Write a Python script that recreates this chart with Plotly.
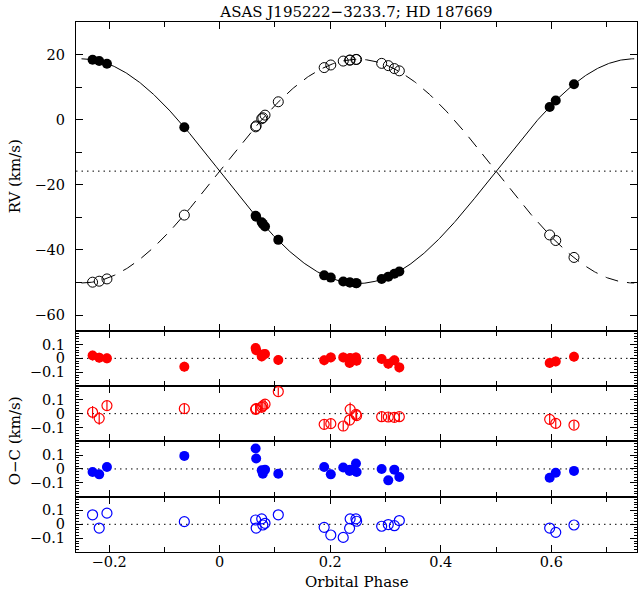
import numpy as np
import plotly.graph_objects as go

# ---------------- data ----------------
phase = [-0.230, -0.218, -0.204, -0.064, 0.065, 0.066, 0.076, 0.078, 0.082, 0.106,
         0.189, 0.201, 0.2235, 0.235, 0.236, 0.2465, 0.2477,
         0.293, 0.305, 0.316, 0.325, 0.597, 0.608, 0.641]

rv_primary = [18.4, 18.0, 17.2, -2.3, -29.5, -29.8, -31.5, -32.0, -32.8, -36.9,
              -47.8, -48.5, -49.7, -50.0, -50.0, -50.2, -50.2,
              -48.9, -48.2, -47.3, -46.6, 3.9, 5.9, 10.9]

rv_secondary = [-49.9, -49.6, -48.9, -29.3, -2.2, -1.9, 0.3, 0.6, 1.4, 5.5,
                16.0, 16.8, 18.0, 18.3, 18.3, 18.5, 18.5,
                17.3, 16.6, 15.7, 15.0, -35.4, -37.1, -42.3]

# orbital solution (circular) used for the model curves
gamma = -15.8
K1 = 34.5
K2 = 34.35

res_red_filled = [0.020, 0.005, 0.000, -0.060, 0.075, 0.058, 0.014, 0.027, 0.031, -0.012,
                  -0.014, 0.007, 0.007, -0.034, 0.002, 0.007, -0.017,
                  -0.005, -0.039, -0.014, -0.065, -0.034, -0.022, 0.012]
err_red_filled = [0.035] * 24

res_red_open = [0.010, -0.034, 0.058, 0.036, 0.031, 0.036, 0.046, 0.056, 0.068, 0.159,
                -0.077, -0.072, -0.089, -0.046, 0.031, -0.005, -0.014,
                -0.022, -0.024, -0.027, -0.022, -0.041, -0.070, -0.082]
err_red_open = [0.045, 0.045, 0.035, 0.035, 0.04, 0.04, 0.04, 0.04, 0.035, 0.03,
                0.035, 0.035, 0.035, 0.035, 0.05, 0.035, 0.035,
                0.035, 0.035, 0.035, 0.03, 0.035, 0.035, 0.03]

res_blue_filled = [-0.022, -0.039, 0.014, 0.094, 0.147, 0.075, -0.010, -0.034, -0.005, -0.034,
                   0.014, -0.039, 0.010, -0.014, -0.005, 0.039, -0.022,
                   0.000, -0.082, -0.005, -0.058, -0.063, -0.027, -0.014]

res_blue_open = [0.068, -0.027, 0.080, 0.019, 0.031, -0.027, 0.039, -0.005, 0.007, 0.068,
                 -0.022, -0.077, -0.094, -0.029, 0.039, 0.039, 0.022,
                 -0.014, -0.002, -0.010, 0.027, -0.027, -0.058, -0.005]

title_text = "ASAS J195222\u22123233.7; HD 187669"
x_range = [-0.26, 0.755]
curve_span = [-0.25, 0.75]

# ---------------- figure ----------------
FONT = "DejaVu Serif"
fig = go.Figure()

ph_model = np.linspace(curve_span[0], curve_span[1], 600)
v1 = gamma - K1 * np.sin(2 * np.pi * ph_model)
v2 = gamma + K2 * np.sin(2 * np.pi * ph_model)

fig.add_trace(go.Scatter(x=ph_model, y=v1, mode="lines", line=dict(color="black", width=1),
                         xaxis="x", yaxis="y", showlegend=False, hoverinfo="skip"))
fig.add_trace(go.Scatter(x=ph_model, y=v2, mode="lines",
                         line=dict(color="black", width=1, dash="13px,9px"),
                         xaxis="x", yaxis="y", showlegend=False, hoverinfo="skip"))
fig.add_trace(go.Scatter(x=phase, y=rv_secondary, mode="markers",
                         marker=dict(symbol="circle-open", size=10, color="black", line=dict(width=1)),
                         xaxis="x", yaxis="y", showlegend=False))
fig.add_trace(go.Scatter(x=phase, y=rv_primary, mode="markers",
                         marker=dict(symbol="circle", size=10, color="black"),
                         xaxis="x", yaxis="y", showlegend=False))

RED = "#ff0000"
BLUE = "#0000ff"
fig.add_trace(go.Scatter(x=phase, y=res_red_filled, mode="markers",
                         error_y=dict(type="data", array=err_red_filled, color=RED, thickness=1.2, width=0),
                         marker=dict(symbol="circle", size=10, color=RED),
                         xaxis="x2", yaxis="y2", showlegend=False))
fig.add_trace(go.Scatter(x=phase, y=res_red_open, mode="markers",
                         error_y=dict(type="data", array=err_red_open, color=RED, thickness=1.2, width=0),
                         marker=dict(symbol="circle-open", size=10, color=RED, line=dict(width=1.2)),
                         xaxis="x3", yaxis="y3", showlegend=False))
fig.add_trace(go.Scatter(x=phase, y=res_blue_filled, mode="markers",
                         marker=dict(symbol="circle", size=10, color=BLUE),
                         xaxis="x4", yaxis="y4", showlegend=False))
fig.add_trace(go.Scatter(x=phase, y=res_blue_open, mode="markers",
                         marker=dict(symbol="circle-open", size=10, color=BLUE, line=dict(width=1.2)),
                         xaxis="x5", yaxis="y5", showlegend=False))

# domains (pixel-based): plot area top 22, bottom 552 -> 530 px
H = 530.0
bounds_px = [22, 330.7, 386.0, 441.3, 496.6, 552]
domains = []
for i in range(5):
    top = (552 - bounds_px[i]) / H
    bot = (552 - bounds_px[i + 1]) / H
    domains.append([max(bot, 0), min(top, 1)])

tickfont = dict(family=FONT, size=14.5, color="black")
layout = dict(
    width=639, height=594,
    margin=dict(l=76, r=2, t=22, b=42),
    paper_bgcolor="white", plot_bgcolor="white",
    showlegend=False,
    title=dict(text=title_text, x=(76 + 637) / 2 / 639, xanchor="center",
               y=1 - 12 / 594, yanchor="middle",
               font=dict(family=FONT, size=15, color="black")),
)

LW = 1.1
for i in range(5):
    n = "" if i == 0 else str(i + 1)
    xa = dict(domain=[0, 1], range=x_range, anchor="y" + n,
              showline=True, linecolor="black", linewidth=LW, mirror="ticks",
              ticks="inside", ticklen=7, tickwidth=1.3, tickcolor="black",
              tick0=0, dtick=0.2, showgrid=False, zeroline=False,
              minor=dict(dtick=0.1, ticks="inside", ticklen=5, tickwidth=1.3,
                         tickcolor="black", showgrid=False),
              tickfont=tickfont, showticklabels=(i == 4), ticklabelstandoff=-3)
    if i > 0:
        xa["matches"] = "x"
    layout["xaxis" + n] = xa
    if i == 0:
        ya = dict(domain=domains[i], range=[-64.8, 30], anchor="x" + n,
                  showline=True, linecolor="black", linewidth=LW, mirror="ticks",
                  ticks="inside", ticklen=7, tickwidth=1.3, tickcolor="black",
                  tick0=0, dtick=20, showgrid=False, zeroline=False,
                  minor=dict(dtick=10, ticks="inside", ticklen=6, tickwidth=1.3,
                             tickcolor="black", showgrid=False),
                  tickfont=tickfont, ticklabelstandoff=7)
    else:
        ya = dict(domain=domains[i], range=[-0.199, 0.199], anchor="x" + n,
                  showline=True, linecolor="black", linewidth=LW, mirror="ticks",
                  ticks="inside", ticklen=7, tickwidth=1.3, tickcolor="black",
                  tick0=0, dtick=0.1, showgrid=False, zeroline=False,
                  minor=dict(dtick=0.02, ticks="inside", ticklen=3, tickwidth=1,
                             tickcolor="black", showgrid=False),
                  tickfont=tickfont, ticklabelstandoff=7)
    layout["yaxis" + n] = ya

fig.update_layout(**layout)

# dotted reference lines
shapes = [dict(type="line", xref="x domain", yref="y", x0=0, x1=1, y0=gamma, y1=gamma,
               line=dict(color="black", width=1, dash="1.5px,4px"), layer="below")]
for i in range(1, 5):
    n = str(i + 1)
    shapes.append(dict(type="line", xref="x" + n + " domain", yref="y" + n, x0=0, x1=1, y0=0, y1=0,
                       line=dict(color="black", width=1, dash="1.5px,4px"), layer="below"))
fig.update_layout(shapes=shapes)

ann_font = dict(family=FONT, size=15, color="black")
fig.add_annotation(text="RV (km/s)", xref="paper", yref="paper", x=(15 - 76) / 561.0,
                   y=sum(domains[0]) / 2, textangle=-90, showarrow=False,
                   xanchor="center", yanchor="middle", font=ann_font)
fig.add_annotation(text="O\u2212C (km/s)", xref="paper", yref="paper", x=(15 - 76) / 561.0,
                   y=(domains[4][0] + domains[1][1]) / 2, textangle=-90, showarrow=False,
                   xanchor="center", yanchor="middle", font=ann_font)
fig.add_annotation(text="Orbital Phase", xref="paper", yref="paper", x=0.5,
                   y=(552 - 582) / H, showarrow=False,
                   xanchor="center", yanchor="middle", font=ann_font)

fig.write_html("out.html", config={"displayModeBar": False},
               post_script="document.body.style.margin='0px';document.body.style.overflow='hidden';")
